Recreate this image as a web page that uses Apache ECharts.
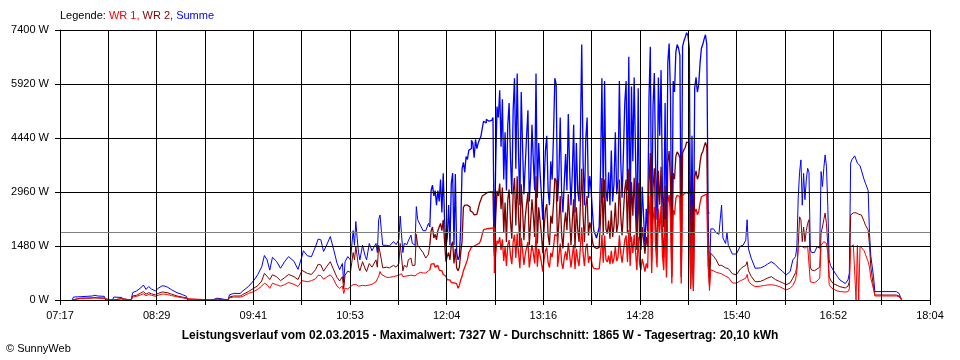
<!DOCTYPE html>
<html><head><meta charset="utf-8">
<script src="https://cdn.jsdelivr.net/npm/echarts@6/dist/echarts.min.js"></script>
<style>html,body{margin:0;padding:0;background:#fff}#c{width:960px;height:360px}</style>
</head><body><div id="c"></div>
<script>
// x tick labels (every second vertical grid line carries a label)
const xTickLabels = ['07:17','08:29','09:41','10:53','12:04','13:16','14:28','15:40','16:52','18:04'];
const axisSpanMinutes = 647;          // 07:17 .. 18:04
const yMax = 7400, yStep = 1480;
const average = 1865;                 // Durchschnitt
const titleText = 'Leistungsverlauf vom 02.03.2015 - Maximalwert: 7327 W - Durchschnitt: 1865 W - Tagesertrag: 20,10 kWh';

// sample times, minutes after 07:17
const minutes = [
 9,10,15,20,24,26,28,33,34,39,40,46,47,53,54,57,60,62,64,66,68,71,73,76,78,80,83,87,91,94,95,113,114,117,118,125,
 126,129,134,136,140,144,147,150,152,154,156,158,161,164,167,170,174,177,180,181,184,187,190,192,194,196,198,201,203,206,
 208,210,211,212,214,216,218,219,220,221,222,223,225,227,228,230,232,235,236,237,238,239,240,243,245,248,250,252,253,254,
 255,256,258,259,261,262,264,265,266,268,270,272,274,275,276,277,278,279,280,281,282,
 283,284,285,286,287,288,289,290,291,292,293,294,295,296,297,298,299,300,301,302,
 303,304,305,306,307,308,309,310,311,312,313,314,315,316,317,318,319,320,321,322,
 323,324,325,326,327,328,329,330,331,332,333,334,335,336,337,338,339,340,341,342,
 343,344,345,346,347,348,349,350,351,352,353,354,355,356,357,358,359,360,361,362,
 363,364,365,366,367,368,369,370,371,372,373,374,375,376,377,378,379,380,381,382,
 383,384,385,386,387,388,389,390,391,392,393,394,395,396,397,398,399,400,401,402,
 403,404,405,406,407,408,409,410,411,412,413,414,415,416,417,418,419,420,421,422,
 423,424,425,426,427,428,429,430,431,432,433,434,435,436,437,438,439,440,441,442,
 443,444,445,446,447,448,449,450,451,452,453,454,455,456,457,458,459,460,461,462,
 463,464,465,466,467,468,469,470,471,472,473,474,475,476,477,478,479,480,481,
 482,483,484,486,488,490,491,492,493,495,496,497,500,503,506,508,510,511,512,514,
 517,521,524,526,529,532,535,537,540,543,545,547,548,549,550,551,552,553,554,555,
 556,557,558,559,561,563,565,566,567,568,569,570,571,572,573,575,578,580,584,586,
 587,588,589,590,591,592,593,594,595,596,598,599,601,602,603,605,606,622,624,625,626
];

// Summe (W)
const summe = [
 0,80,90,100,110,130,110,100,0,0,80,70,0,0,200,250,330,410,290,370,300,250,320,390,380,350,280,200,150,100,0,0,50,50,0,0,
 140,180,180,250,365,530,690,910,1220,1100,820,1170,1060,870,1050,1190,1060,840,1200,1350,1210,1190,1460,1670,1650,1330,1480,1740,1460,1010,
 830,1000,470,1050,1190,1100,1900,1500,2150,1700,1300,1100,1500,1200,1100,1550,1350,1550,1300,2200,2330,1900,1500,1500,1480,1600,1520,1650,2300,2330,
 1300,1550,1520,1620,1780,1550,1500,2560,2200,2050,1900,1900,2100,2000,3000,3150,2850,3000,2600,3000,2700,
 3300,2400,3470,2200,1460,1700,2600,1500,3200,3480,1500,3450,1300,1100,1200,2000,3600,3770,3500,3930,
 3850,4100,4150,4380,4300,3900,4400,4150,4300,4400,4480,4700,4900,4850,4950,4900,4950,4920,4900,5000,
 1300,3700,5300,5000,5750,4200,5500,3300,4600,3000,4800,5400,3900,2900,5200,6080,3600,6210,4000,2600,
 5700,4200,2900,3700,4500,5200,2700,3400,4800,3800,3000,6210,2800,4300,3500,2900,2200,3200,4100,4500,
 3000,2600,3800,3300,4500,6080,5900,2700,3400,5000,3000,2400,3200,4000,3000,5100,3600,2600,3500,4800,
 2400,4300,3000,2700,4500,7000,3800,2600,4400,5000,2800,3400,3000,2400,1900,1800,1700,1850,2000,3600,
 6080,2800,6000,3000,2700,3500,2600,4100,2700,3200,4600,2900,3300,6000,3800,2800,4000,5400,6000,3000,
 6670,2200,5850,3800,6100,4000,1700,5800,2500,1700,3100,2300,1480,2500,1900,5500,6940,1800,5300,6220,
 3500,2200,6100,4500,6300,3000,2000,5400,1500,6500,7030,5600,1100,6000,5700,6800,7000,6900,6700,1100,
 6950,7100,7200,7327,7250,6900,730,4500,600,5800,6100,5700,5900,6500,6900,7000,7150,7270,7000,
 2380,640,1950,1950,1840,1800,1780,2600,1700,1550,1850,1500,1260,1260,1480,1500,1640,2200,1400,1150,
 870,880,930,980,1050,970,850,800,685,780,1100,1190,1460,2800,3500,3840,2600,3470,2750,3290,
 3610,3500,1370,1300,1300,1460,1420,3520,3110,3600,3975,3660,2560,1100,950,820,650,550,450,550,
 730,3750,3850,3900,3950,3900,3750,3700,3680,3650,3300,3200,3000,1830,1200,640,230,230,180,90,0
];

// WR 2 (W)
const wr2 = [
 0,45,50,55,60,70,60,55,0,0,45,40,0,0,110,130,190,230,160,200,170,140,180,220,210,200,160,110,80,60,0,0,30,30,0,0,
 80,110,110,150,230,320,390,520,730,650,560,690,640,530,610,700,640,560,810,820,730,700,830,980,960,790,900,1050,870,620,
 520,640,300,680,790,760,1300,1100,1460,1200,900,800,1050,850,780,1000,900,1100,900,1500,1500,1100,880,900,880,950,900,1000,1550,1550,
 800,950,900,1100,1150,950,950,1800,1500,1400,1300,1150,1250,1500,1900,2000,1700,1800,1650,1900,2000,
 2100,1900,2200,1600,1050,1200,1300,1100,1500,1600,1000,1400,880,800,900,1300,1600,2540,2600,2600,
 2630,2550,2450,2400,2350,2330,2350,2400,2500,2650,2750,2850,2900,2930,2950,2950,2960,2960,2960,2960,
 1190,2270,2990,2850,3190,2490,3080,1860,2670,1590,2760,3030,2180,1680,2940,3340,2040,3390,2310,1460,
 3170,2490,1640,2270,2630,2940,1500,2130,2760,2310,1730,3390,1550,2540,2180,1820,1280,1950,2450,2630,
 1770,1500,2310,2090,2630,3340,3260,1550,2130,2850,1820,1410,2040,2400,1910,2900,2220,1500,2180,2760,
 1410,2540,1950,1590,2630,3600,2310,1590,2580,2850,1770,2130,1950,1590,1460,1410,1370,1440,1500,2220,
 3340,1770,3300,1950,1820,2180,1680,2450,1730,2040,2670,1860,2090,3300,2310,1770,2400,3030,3300,1820,
 3600,1590,3230,2310,3350,2400,1370,3210,1730,1370,2000,1640,1270,1730,1460,3190,4030,1040,3070,3610,
 2030,1280,3540,2610,3650,1740,1160,3130,870,3770,4080,3250,640,3480,3310,3940,4060,4000,3890,640,
 4030,4120,4180,4330,4300,4000,420,2610,350,3360,3540,3310,3420,3770,4000,4060,4200,4320,4200,
 1300,380,1280,1200,1100,950,900,950,900,880,880,860,720,690,850,910,950,1050,800,650,
 500,510,560,600,640,560,510,480,420,470,600,750,900,1500,2280,2200,1600,2000,1600,1900,
 2100,2200,900,820,800,850,900,1830,2000,2200,2380,2100,1500,650,550,450,400,365,330,380,
 500,2330,2370,2390,2393,2390,2380,2350,2340,2330,2150,2050,1918,1500,900,360,137,137,110,50,0
];

// WR 1 (W)
const wr1 = [
 0,35,40,45,50,55,50,45,0,0,35,30,0,0,80,100,140,170,120,150,130,100,130,160,160,150,120,90,60,40,0,0,20,20,0,0,
 60,80,80,100,180,230,290,380,460,420,320,460,420,380,420,480,430,370,530,530,500,530,580,680,670,570,620,690,600,380,
 320,380,180,320,300,370,420,400,430,420,380,350,400,390,400,410,430,500,480,650,780,700,650,620,620,640,660,680,720,720,
 640,650,660,650,680,690,660,700,720,760,740,740,800,820,980,1000,950,900,950,920,820,
 800,780,700,650,600,550,550,500,480,470,460,450,400,320,400,550,650,800,900,1000,
 1100,1300,1370,1450,1480,1500,1520,1530,1560,1580,1650,1800,1930,1950,1960,1960,1980,1970,1970,1980,
 740,1260,1620,1550,1720,1370,1660,1070,1460,930,1510,1640,1220,980,1590,1790,1150,1820,1290,870,
 1700,1370,960,1260,1440,1590,890,1200,1510,1290,1000,1820,910,1400,1220,1040,780,1110,1350,1440,
 1020,890,1290,1180,1440,1790,1750,910,1200,1550,1040,850,1150,1330,1090,1570,1240,890,1220,1510,
 850,1400,1110,930,1440,1990,1290,930,1420,1550,1020,1200,1110,930,870,850,820,860,890,1240,
 1790,1020,1770,1110,1040,1220,980,1350,1000,1150,1460,1070,1180,1770,1290,1020,1330,1640,1770,1040,
 1920,930,1740,1290,1790,1330,820,1730,1000,820,1130,960,780,1000,870,2250,2850,740,2170,2550,
 1430,900,2500,1850,2580,1230,820,2210,620,2660,2880,2300,450,2460,2340,2790,2870,2830,2750,450,
 2850,2910,2950,2930,2900,2830,300,1850,250,2380,2500,2340,2420,2660,2830,2870,2900,2900,2800,
 900,260,830,800,760,740,730,720,700,650,640,620,470,460,530,560,600,700,520,430,
 365,380,400,410,420,400,370,330,280,320,400,550,800,1400,1480,1500,1460,1450,1420,1450,
 1480,1470,500,480,470,520,600,1500,1550,1600,1650,1550,1300,430,360,300,250,230,220,230,
 300,1460,1500,1510,1516,0,1500,0,1480,1470,1350,1250,1050,900,600,300,110,110,90,40,0
];

const FONT = "'Liberation Sans', Arial, sans-serif";
const xStep = axisSpanMinutes / (2 * (xTickLabels.length - 1));
// the minute-by-minute, strongly fluctuating midday part is drawn as a stepped trace
const stepFrom = 275, stepTo = 482;
const lineData = vals => minutes.map((m, i) => [m, (m <= stepFrom || m >= stepTo) ? vals[i] : null]);
const stepData = vals => minutes.map((m, i) => [m, (m >= stepFrom && m <= stepTo) ? vals[i] : null]);

function mk(name, vals, color, stepped, extra) {
  return Object.assign({
    name: name, type: 'line', data: stepped ? stepData(vals) : lineData(vals),
    step: stepped ? 'end' : false, connectNulls: false,
    showSymbol: false, symbol: 'none', silent: true,
    lineStyle: {color: color, width: stepped ? 1.3 : 1}, itemStyle: {color: color}
  }, extra || {});
}

const chart = echarts.init(document.getElementById('c'), null, {renderer: 'canvas'});
chart.setOption({
  animation: false,
  backgroundColor: '#ffffff',
  grid: {left: 60, right: 30, top: 30, bottom: 60, containLabel: false},
  xAxis: {
    type: 'value', min: 0, max: axisSpanMinutes, interval: xStep, z: 5,
    axisLine: {show: true, lineStyle: {color: '#000', width: 1}},
    axisTick: {show: true, length: 5, lineStyle: {color: '#000', width: 1}},
    splitLine: {show: true, lineStyle: {color: '#000', width: 1}},
    axisLabel: {
      color: '#000', fontSize: 11, fontFamily: FONT, margin: 10,
      showMinLabel: true, showMaxLabel: true,
      formatter: v => { const i = Math.round(v / xStep); return i % 2 === 0 ? (xTickLabels[i / 2] || '') : ''; }
    }
  },
  yAxis: {
    type: 'value', min: 0, max: yMax, interval: yStep, z: 5,
    axisLine: {show: true, lineStyle: {color: '#000', width: 1}},
    axisTick: {show: true, length: 5, lineStyle: {color: '#000', width: 1}},
    splitLine: {show: true, lineStyle: {color: '#000', width: 1}},
    axisLabel: {color: '#000', fontSize: 11, fontFamily: FONT, margin: 11, formatter: v => v + ' W'}
  },
  series: [
    mk('Summe', summe, '#0000ff', false),
    mk('Summe', summe, '#0000ff', true),
    mk('WR 2', wr2, '#800000', false),
    mk('WR 2', wr2, '#800000', true),
    mk('WR 1', wr1, '#ff0000', false),
    mk('WR 1', wr1, '#ff0000', true, {
      markLine: {silent: true, symbol: 'none', label: {show: false},
        lineStyle: {color: '#808080', width: 1, type: 'solid'}, data: [{yAxis: average}]}
    })
  ],
  graphic: [
    {type: 'text', left: 60, top: 10, z: 10, style: {
      text: '{k|Legende: }{a|WR 1, }{b|WR 2, }{c|Summe}',
      font: '11px ' + FONT,
      rich: {
        k: {fill: '#000', fontSize: 11, fontFamily: FONT},
        a: {fill: '#ff0000', fontSize: 11, fontFamily: FONT},
        b: {fill: '#800000', fontSize: 11, fontFamily: FONT},
        c: {fill: '#0000ff', fontSize: 11, fontFamily: FONT}
      }}},
    {type: 'text', left: 'center', top: 330, z: 10, style: {
      text: titleText, fill: '#000', font: 'bold 12px ' + FONT}},
    {type: 'text', left: 6, top: 343, z: 10, style: {
      text: '\u00A9 SunnyWeb', fill: '#000', font: '11px ' + FONT}}
  ]
});
</script>
</body></html>
